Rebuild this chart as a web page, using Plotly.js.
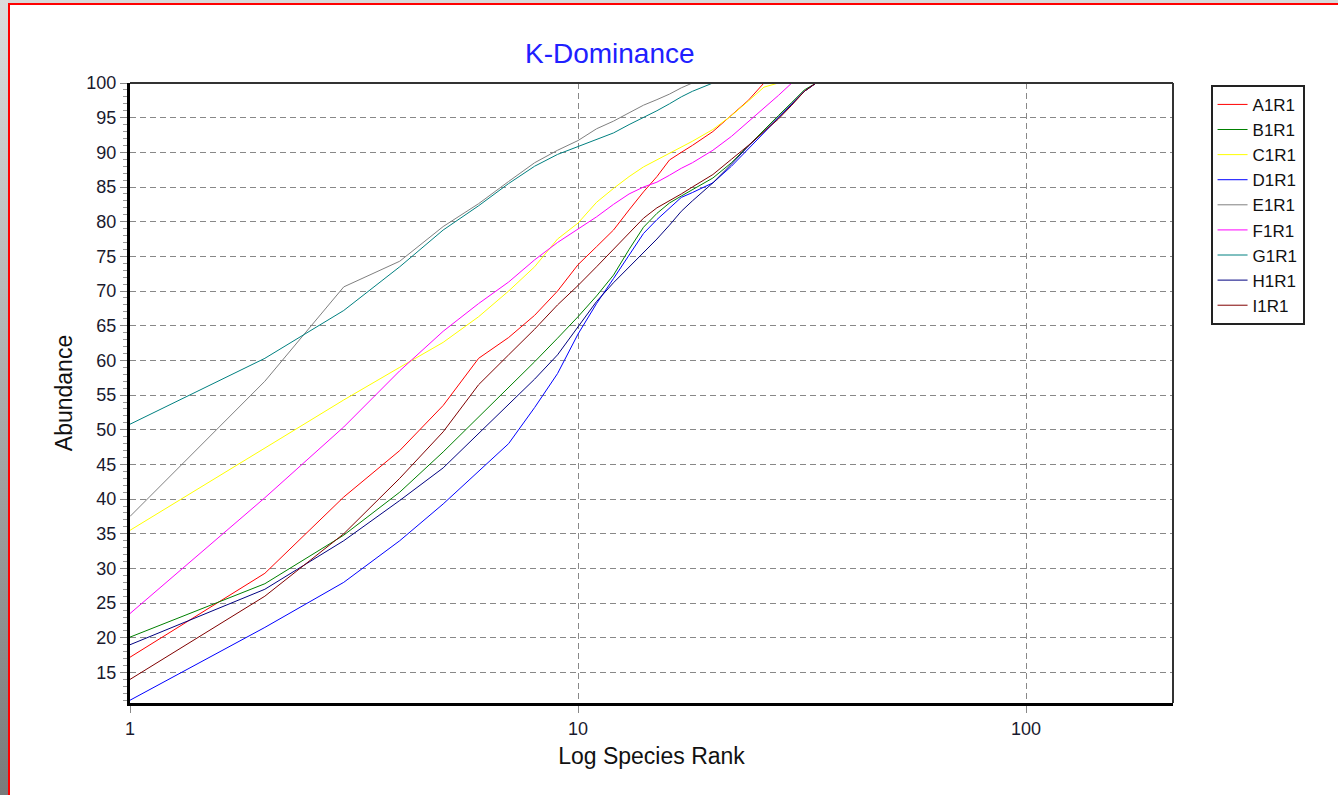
<!DOCTYPE html>
<html>
<head>
<meta charset="utf-8">
<script src="https://cdn.plot.ly/plotly-3.0.1.min.js"></script>
<style>
  html, body { margin: 0; padding: 0; width: 1338px; height: 795px; overflow: hidden; background: #fff; }
  #chart { position: absolute; left: 0; top: 0; width: 1338px; height: 795px; }
  .strip-left { position: absolute; left: 0; top: 0; width: 8px; height: 795px; background: linear-gradient(#dcdcdc, #7a7a7a); pointer-events: none; }
  .strip-top { position: absolute; left: 0; top: 0; width: 1338px; height: 3px; background: #d8d8d8; pointer-events: none; }
  .red-left { position: absolute; left: 8px; top: 3px; width: 2px; height: 792px; background: #ff0000; pointer-events: none; }
  .red-top { position: absolute; left: 8px; top: 3px; width: 1330px; height: 2px; background: #ff0000; pointer-events: none; }
</style>
</head>
<body>
<div id="chart"></div>
<div class="strip-top"></div>
<div class="strip-left"></div>
<div class="red-left"></div>
<div class="red-top"></div>
<script>
// Species rank (x) shared by all series
const ranks = [1,2,3,4,5,6,7,8,9,10,11,12,13,14,15,16,17,18,20,22,24,26,28,30,32,34];

// Cumulative abundance (%) per sample
const A1R1 = [17.2,29.3,40.3,47.0,53.5,60.3,63.3,66.5,70.0,73.8,76.4,78.8,81.7,84.3,86.5,88.9,90.0,91.0,93.0,95.4,97.5,100,100,100,100,100];
const B1R1 = [20.1,27.8,34.8,41.0,46.8,51.8,56.0,59.8,63.2,66.3,69.3,72.3,76.0,79.2,81.2,82.7,83.7,84.6,86.3,88.5,91.0,93.2,95.3,97.2,99.0,100];
const C1R1 = [35.5,47.3,54.3,59.0,62.6,66.3,70.0,73.5,77.5,79.8,82.8,84.8,86.5,87.9,88.9,89.9,90.8,91.6,93.3,95.3,97.4,99.4,100,100,100,100];
const D1R1 = [11.0,21.5,28.0,34.0,39.3,44.0,48.0,53.2,58.1,63.8,68.2,71.8,75.2,78.3,80.3,82.0,83.5,84.2,85.6,88.0,90.5,92.8,95.0,97.0,98.8,100];
const E1R1 = [37.5,57.0,70.6,74.3,79.3,82.6,85.8,88.5,90.3,91.7,93.4,94.5,95.7,96.8,97.6,98.4,99.3,100,100,100,100,100,100,100,100,100];
const F1R1 = [23.5,40.2,50.4,58.5,64.2,68.2,71.3,74.5,77.0,79.0,80.7,82.5,84.0,85.0,85.7,86.7,87.7,88.5,90.3,92.3,94.4,96.3,98.2,100,100,100];
const G1R1 = [50.8,60.3,67.2,73.5,78.8,82.3,85.5,88.0,89.7,90.8,91.8,92.8,94.0,95.0,96.0,97.0,98.0,98.8,100,100,100,100,100,100,100,100];
const H1R1 = [19.0,27.0,34.0,39.8,44.5,49.5,53.6,57.3,60.8,64.8,68.5,71.2,73.5,75.5,77.5,79.5,81.5,83.0,85.6,88.3,90.9,93.0,95.1,97.0,98.8,100];
const I1R1 = [14.0,26.0,35.0,43.0,49.7,56.5,60.8,64.5,68.0,70.8,73.5,76.0,78.3,80.5,82.0,83.0,84.0,85.0,86.8,89.0,91.0,93.0,94.8,96.8,98.8,100];

const seriesNames = ["A1R1","B1R1","C1R1","D1R1","E1R1","F1R1","G1R1","H1R1","I1R1"];
const seriesValues = [A1R1,B1R1,C1R1,D1R1,E1R1,F1R1,G1R1,H1R1,I1R1];
const seriesColors = ["#ff0000","#008000","#ffff00","#0000ff","#808080","#ff00ff","#008080","#000080","#800000"];

const yTicks = [15,20,25,30,35,40,45,50,55,60,65,70,75,80,85,90,95,100];
const xTicks = [1,10,100];

const traces = seriesNames.map((n, i) => ({
  type: 'scatter', mode: 'lines', name: n,
  x: ranks, y: seriesValues[i],
  line: {color: seriesColors[i], width: 1},
  hoverinfo: 'skip'
}));

const font = "Liberation Sans, Arial, sans-serif";

const layout = {
  width: 1338, height: 795,
  margin: {l: 130, r: 165, t: 83, b: 92},
  paper_bgcolor: '#ffffff', plot_bgcolor: '#ffffff',
  font: {family: font, color: '#1a1a2e', size: 18},
  title: {text: 'K-Dominance', x: 0.46, xref: 'paper', xanchor: 'center', y: 0.933, yanchor: 'middle',
          font: {family: font, size: 28, color: '#2020ff'}},
  showlegend: true,
  legend: {x: 1.036, xanchor: 'left', y: 0.997, yanchor: 'top',
           bordercolor: '#222', borderwidth: 2, bgcolor: '#fff',
           font: {family: font, size: 17, color: '#111'},
           tracegroupgap: 0, itemwidth: 30, traceorder: 'normal'},
  xaxis: {
    type: 'log', range: [0, 2.328],
    tickvals: xTicks, ticktext: xTicks.map(String),
    ticks: 'outside', ticklen: 7, tickcolor: '#888', tickwidth: 1,
    showgrid: true, gridcolor: '#888', griddash: '6px,4px', gridwidth: 1,
    showline: true, linecolor: '#000', linewidth: 3, mirror: false,
    zeroline: false,
    tickfont: {family: font, size: 18, color: '#1a1a2e'},
    title: {text: 'Log Species Rank', font: {family: font, size: 23, color: '#111'}, standoff: 11}
  },
  yaxis: {
    range: [10.6, 100],
    tickvals: yTicks, ticktext: yTicks.map(String),
    ticks: 'outside', ticklen: 7, tickcolor: '#888', tickwidth: 1,
    minor: {dtick: 1, tick0: 0, ticks: 'outside', ticklen: 4, tickcolor: '#999', showgrid: false},
    showgrid: true, gridcolor: '#888', griddash: '6px,4px', gridwidth: 1,
    showline: true, linecolor: '#000', linewidth: 3, mirror: false,
    zeroline: false,
    tickfont: {family: font, size: 18, color: '#1a1a2e'},
    title: {text: 'Abundance', font: {family: font, size: 23, color: '#111'}, standoff: 8}
  },
  shapes: [
    {type: 'line', xref: 'paper', yref: 'paper', x0: 0, x1: 1, y0: 1, y1: 1, line: {color: '#333', width: 2}, layer: 'above'},
    {type: 'line', xref: 'paper', yref: 'paper', x0: 1, x1: 1, y0: 0, y1: 1, line: {color: '#333', width: 2}, layer: 'above'}
  ]
};

Plotly.newPlot('chart', traces, layout, {staticPlot: true, displayModeBar: false});
</script>
</body>
</html>
